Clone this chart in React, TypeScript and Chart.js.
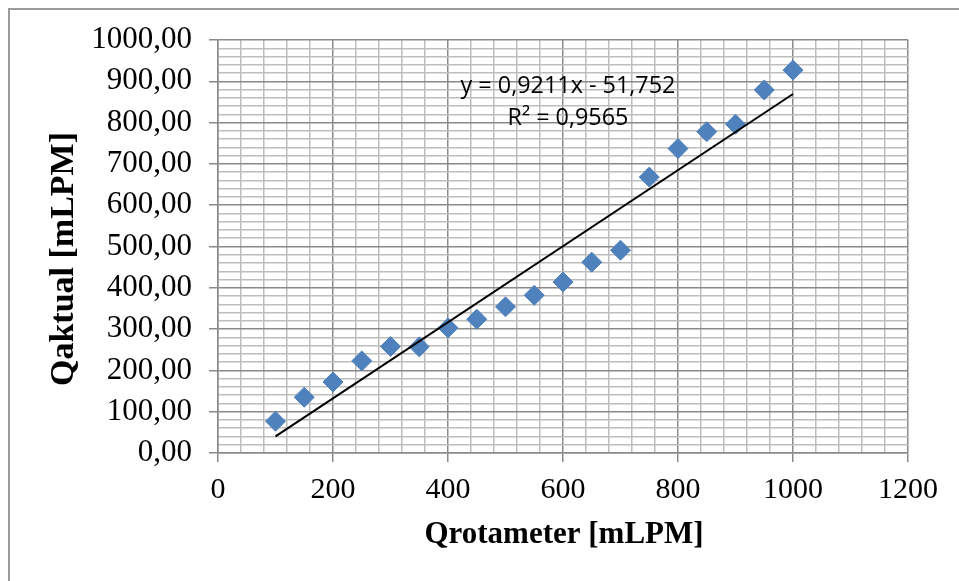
import React, { useEffect, useRef } from "react";
import { Chart, registerables } from "chart.js";

Chart.register(...registerables);

// ---- Data ----
const rotameterFlow = [100, 150, 200, 250, 300, 350, 400, 450, 500, 550, 600, 650, 700, 750, 800, 850, 900, 950, 1000];
const actualFlow = [77, 135, 172, 223, 258, 257, 303, 324, 354, 382, 414, 462, 491, 668, 737, 778, 796, 879, 927];
const trendSlope = 0.9211;
const trendIntercept = -51.752;
const equationText = "y = 0,9211x - 51,752";
const r2Text = "R² = 0,9565";
const xTitle = "Qrotameter [mLPM]";
const yTitle = "Qaktual [mLPM]";
const xMajorStep = 200;
const yMajorStep = 100;

const MAJOR = "#8a8a8a";
const MINOR = "#bdbdbd";

const decorPlugin = {
  id: "decor",
  beforeDraw(chart: any) {
    const ctx = chart.ctx;
    ctx.save();
    ctx.fillStyle = "#ffffff";
    ctx.fillRect(0, 0, chart.width, chart.height);
    ctx.strokeStyle = "#9a9a9a";
    ctx.lineWidth = 2;
    ctx.beginPath();
    ctx.moveTo(9, chart.height);
    ctx.lineTo(9, 9);
    ctx.lineTo(chart.width, 9);
    ctx.stroke();
    ctx.restore();
  },
  afterDraw(chart: any) {
    const ctx = chart.ctx;
    ctx.save();
    ctx.fillStyle = "#000";
    // axis titles
    ctx.font = "bold 31px 'Liberation Serif'";
    ctx.textAlign = "center";
    ctx.textBaseline = "middle";
    ctx.fillText(xTitle, 564, 535);
    ctx.save();
    ctx.translate(64, 259);
    ctx.rotate(-Math.PI / 2);
    ctx.font = "bold 34px 'Liberation Serif'";
    ctx.fillText(yTitle, 0, 0);
    ctx.restore();
    // trendline label
    ctx.font = "22px 'Open Sans'";
    const w = ctx.measureText(equationText).width;
    const size = (22 * 215) / w;
    ctx.font = `${size.toFixed(2)}px 'Open Sans'`;
    ctx.fillText(equationText, 568, 86);
    ctx.fillText(r2Text, 568, 118);
    ctx.restore();
  },
};

export default function App() {
  const ref = useRef<HTMLCanvasElement | null>(null);

  useEffect(() => {
    if (!ref.current) return;
    const points = rotameterFlow.map((x, i) => ({ x, y: actualFlow[i] }));
    const x0 = rotameterFlow[0];
    const x1 = rotameterFlow[rotameterFlow.length - 1];
    const trend = [
      { x: x0, y: trendSlope * x0 + trendIntercept },
      { x: x1, y: trendSlope * x1 + trendIntercept },
    ];
    const chart = new Chart(ref.current, {
      type: "scatter",
      data: {
        datasets: [
          {
            type: "line",
            data: trend,
            borderColor: "#000000",
            borderWidth: 2,
            pointRadius: 0,
            showLine: true,
            fill: false,
            order: 1,
          } as any,
          {
            data: points,
            pointStyle: "rectRot",
            pointRadius: 10,
            backgroundColor: "#4F81BD",
            borderColor: "#4F81BD",
            borderWidth: 1,
            order: 2,
          },
        ],
      },
      options: {
        animation: false,
        responsive: false,
        devicePixelRatio: 1,
        layout: { padding: { top: 40, right: 51, left: 0, bottom: 0 } },
        plugins: { legend: { display: false }, tooltip: { enabled: false } },
        scales: {
          x: {
            type: "linear",
            min: 0,
            max: 1200,
            afterFit: (s: any) => {
              s.height = 128;
            },
            ticks: {
              stepSize: 40,
              maxTicksLimit: 1000,
              autoSkip: false,
              maxRotation: 0,
              padding: 10,
              color: "#000",
              font: { family: "'Liberation Serif'", size: 30 },
              callback: (v: any) => (Number(v) % xMajorStep === 0 ? String(v) : ""),
            },
            grid: {
              color: (c: any) => (c.tick && c.tick.value % xMajorStep === 0 ? MAJOR : MINOR),
              lineWidth: 1.5,
              tickLength: 9,
              tickColor: (c: any) => (c.tick && c.tick.value % xMajorStep === 0 ? MAJOR : "rgba(0,0,0,0)"),
            },
            border: { color: MAJOR, width: 1.5 },
          },
          y: {
            type: "linear",
            min: 0,
            max: 1000,
            afterFit: (s: any) => {
              s.width = 218;
            },
            ticks: {
              stepSize: 20,
              maxTicksLimit: 1000,
              autoSkip: false,
              padding: 17,
              color: "#000",
              font: { family: "'Liberation Serif'", size: 31 },
              callback: (v: any) =>
                Number(v) % yMajorStep === 0 ? Number(v).toFixed(2).replace(".", ",") : "",
            },
            grid: {
              color: (c: any) => (c.tick && c.tick.value % yMajorStep === 0 ? MAJOR : MINOR),
              lineWidth: 1.5,
              tickLength: 9,
              tickColor: (c: any) => (c.tick && c.tick.value % yMajorStep === 0 ? MAJOR : "rgba(0,0,0,0)"),
            },
            border: { color: MAJOR, width: 1.5 },
          },
        },
      },
      plugins: [decorPlugin],
    });
    return () => chart.destroy();
  }, []);

  return (
    <div style={{ position: "fixed", left: 0, top: 0, width: 959, height: 581, background: "#fff" }}>
      <canvas ref={ref} width={959} height={581} style={{ display: "block" }} />
    </div>
  );
}
